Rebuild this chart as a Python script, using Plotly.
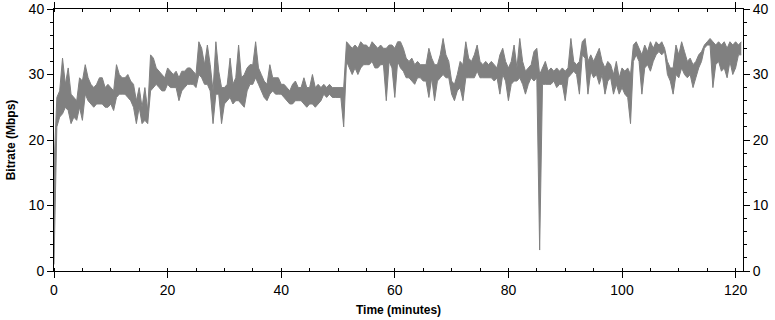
import plotly.graph_objects as go

# One reading every half minute
step_minutes = 0.5

# Lower and upper edge of the bitrate trace (Mbps).
# 10 readings (5 minutes) per row.
bitrate_low = [
    1, 22, 23.5, 24, 25, 24.5, 22.5, 23.5, 23, 25,
    23, 27, 26, 25.5, 25, 25.5, 25.5, 25.5, 25, 25,
    25.5, 24.5, 26.5, 27, 27, 27, 26.5, 26, 25, 22.5,
    25, 22.5, 23, 22.5, 27.5, 28, 28.5, 28, 27.5, 27.5,
    28.5, 28, 28, 28, 26, 27.5, 28, 28.5, 28.5, 28.5,
    28, 30, 29.5, 28.5, 28.5, 27.5, 22.5, 27, 27, 22.5,
    25.5, 26, 26.5, 25.5, 26, 26, 25.5, 25, 27.5, 28.5,
    28.5, 29.5, 28.5, 27.5, 26.5, 26, 27, 27.5, 27, 27,
    27, 26.5, 26, 25.5, 25.5, 26, 26, 26, 25.5, 25,
    25.5, 25.5, 25, 25.5, 26, 27, 26.5, 27, 26.5, 26.5,
    26.5, 26.5, 22, 32, 31, 30, 31, 30, 31, 31.5,
    31.5, 31.5, 32, 31, 31, 31.5, 31.5, 26, 32, 31,
    26.5, 32, 31, 30.5, 29.5, 29.5, 29, 28.5, 29.5, 29.5,
    29, 29, 26.5, 29.5, 26, 29, 29.5, 30, 29.5, 29.5,
    27, 26, 27.5, 28, 26, 29.5, 29.5, 29.5, 29.5, 30.5,
    29.5, 29.5, 29.5, 29.5, 29.5, 29, 29.5, 27, 30, 29,
    26, 28.5, 29, 29, 29.5, 28.5, 27, 28.5, 29.5, 29,
    29.5, 3.2, 28.5, 28.5, 28.5, 28.5, 29, 28, 28.5, 28.5,
    26, 29.5, 30, 30.5, 30, 27, 33, 32.5, 27, 30.5,
    29.5, 30, 28.5, 30, 27, 29, 29.5, 27, 28.5, 27,
    28, 27, 26.5, 22.5, 32, 33, 32, 27, 31, 31.5,
    30.5, 32, 33, 33.5, 33, 33.5, 30, 29, 27, 30,
    29.5, 31, 30, 29.5, 30, 28, 29.5, 31, 32, 34,
    34.5, 34.5, 28, 31.5, 32, 30.5, 31, 29.5, 32, 30,
    31, 33, 33,
]
bitrate_high = [
    16, 26.5, 27.5, 32.5, 28.5, 31, 27, 26.5, 26, 29.5,
    29, 31.5, 29.5, 28.5, 28, 28.5, 29.5, 29.5, 28, 28.5,
    28, 27.5, 31.5, 30, 29.5, 29.5, 30, 29, 28.5, 26,
    28, 25, 28, 24.5, 33, 32.5, 31, 30.5, 30, 29.5,
    31, 30.5, 30, 30.5, 29.5, 30.5, 30.5, 31, 31, 30.5,
    30, 35, 34, 31.5, 34.5, 31.5, 27.5, 35, 30.5, 28,
    28, 28.5, 32.5, 28.5, 29.5, 34.5, 29.5, 30, 31, 31.5,
    31.5, 35, 31, 30, 29, 28.5, 31.5, 29.5, 29.5, 29.5,
    28.5, 28.5, 28, 27.5, 28.5, 29, 28, 28, 29.5, 28,
    28, 30, 28, 28.5, 28, 28.5, 28, 28.5, 28, 28,
    28, 28, 28, 35, 34.5, 34, 34.5, 34, 35, 34.5,
    34.5, 34, 35, 34.5, 34, 34.5, 34, 34, 34.5, 34.5,
    34, 35, 35, 34, 32.5, 32, 32.5, 31.5, 32, 31.5,
    31.5, 31.5, 34, 32.5, 31.5, 31.5, 33, 35.5, 33, 32,
    29, 28.5, 30, 32, 31.5, 35, 32.5, 32, 33, 34.5,
    32, 31.5, 32, 31.5, 32, 31.5, 31, 33, 34, 32,
    31, 32, 34.5, 31, 35.5, 32, 30.5, 31, 31.5, 33.5,
    34, 30, 31, 32, 30.5, 31, 30.5, 31, 30.5, 31,
    30.5, 31, 35.5, 32, 31.5, 32, 35, 35.5, 32, 33,
    32, 33, 34, 32, 31, 32, 31.5, 30, 32, 29.5,
    31, 30.5, 31, 30, 34.5, 35, 34, 33, 34.5, 33.5,
    35, 34, 35, 34.5, 35, 34, 32, 31, 31, 34.5,
    33, 35, 33.5, 32, 32.5, 31.5, 32, 33, 33.5, 34.5,
    35, 35.5, 35, 34.5, 35, 34.5, 35, 34, 35, 34.5,
    35, 34.5, 35,
]
time_minutes = [i * step_minutes for i in range(len(bitrate_low))]

x_range = [0, 121.3]
y_range = [0, 40]

trace_color = "#808080"
font_family = "Liberation Sans, Arial, sans-serif"

fig = go.Figure()
fig.add_trace(go.Scatter(
    x=time_minutes, y=bitrate_low, mode="lines",
    line=dict(color=trace_color, width=1),
    showlegend=False, hoverinfo="skip",
))
fig.add_trace(go.Scatter(
    x=time_minutes, y=bitrate_high, mode="lines",
    line=dict(color=trace_color, width=1),
    fill="tonexty", fillcolor=trace_color,
    showlegend=False, hoverinfo="skip",
))
# invisible copy on the right-hand axis so that axis is drawn
fig.add_trace(go.Scatter(
    x=time_minutes, y=bitrate_high, mode="lines", yaxis="y2",
    line=dict(color="rgba(0,0,0,0)", width=0),
    showlegend=False, hoverinfo="skip",
))

axis_common = dict(
    showline=True, linecolor="black", linewidth=1,
    ticks="outside", ticklen=6, tickwidth=1, tickcolor="black",
    showgrid=False, zeroline=False, automargin=False,
    tickfont=dict(family=font_family, size=14, color="black"),
)

fig.update_layout(
    width=775, height=320,
    margin=dict(l=54, r=32, t=9, b=49),
    paper_bgcolor="white", plot_bgcolor="white",
    font=dict(family=font_family, color="black"),
    xaxis=dict(
        range=x_range, dtick=20, tick0=0, mirror="ticks",
        title=dict(text="<b>Time (minutes)</b>", font=dict(family=font_family, size=12), standoff=8),
        minor=dict(dtick=5, tick0=0, ticks="inside", ticklen=3, tickcolor="black", showgrid=False),
        **axis_common,
    ),
    yaxis=dict(
        range=y_range, dtick=10, tick0=0,
        title=dict(text="<b>Bitrate (Mbps)</b>", font=dict(family=font_family, size=12), standoff=10),
        minor=dict(dtick=2, tick0=0, ticks="outside", ticklen=3, tickcolor="black", showgrid=False),
        **axis_common,
    ),
    yaxis2=dict(
        range=y_range, dtick=10, tick0=0, overlaying="y", side="right",
        minor=dict(dtick=2, tick0=0, ticks="outside", ticklen=3, tickcolor="black", showgrid=False),
        **axis_common,
    ),
)

fig.write_html(
    "out.html",
    config={"displayModeBar": False},
    post_script="document.body.style.margin='0';document.body.style.overflow='hidden';",
)
